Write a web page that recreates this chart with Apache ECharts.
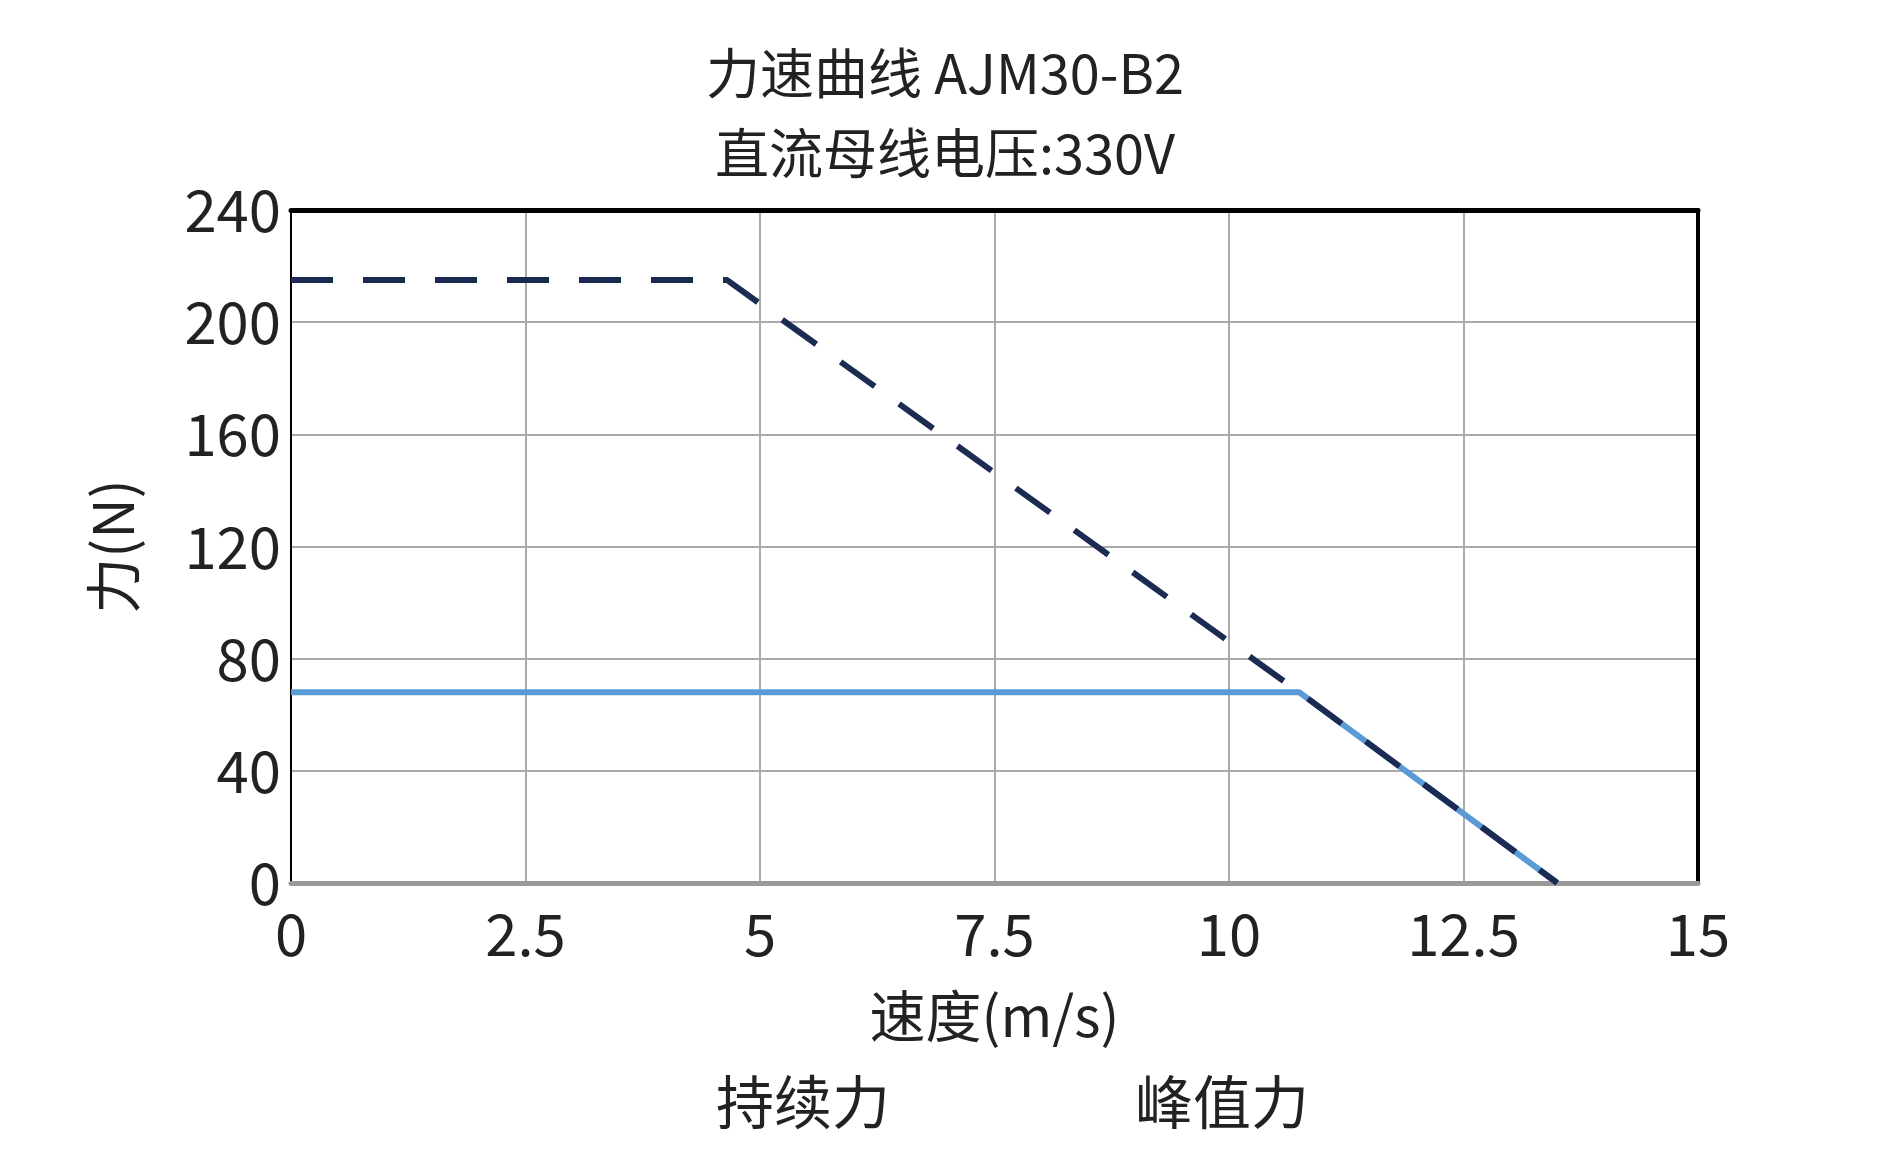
<!DOCTYPE html><html><head><meta charset="utf-8"><script src="https://cdn.jsdelivr.net/npm/echarts@6/dist/echarts.min.js"></script></head><body style="margin:0"><div id="c" style="width:1890px;height:1174px"></div><script>
const xTicks=[0,2.5,5,7.5,10,12.5,15];
const contX=[0,10.75,13.5];const contY=[68,68,0];
const peakX=[0,4.65,10.75,13.5];const peakY=[215,215,68,0];
const F='"Noto Sans CJK SC"';
const c=echarts.init(document.getElementById('c'));
c.setOption({
title:{text:'力速曲线 AJM30-B2\n直流母线电压:330V',left:'center',top:28,textStyle:{fontFamily:F,fontSize:54,fontWeight:'normal',color:'#222',lineHeight:80}},
grid:{left:291,right:192,top:210,bottom:291},
legend:{bottom:38,left:'center',itemGap:110,itemWidth:130,itemHeight:20,textStyle:{fontFamily:F,fontSize:58,color:'#222'},
data:[{name:'持续力',icon:'none'},{name:'峰值力',icon:'none'}]},
xAxis:[{type:'value',min:0,max:15,interval:2.5,name:'速度(m/s)',nameLocation:'middle',nameGap:105,nameTextStyle:{fontFamily:F,fontSize:56,color:'#222'},
axisLine:{show:true,onZero:false,lineStyle:{color:'#999',width:5}},axisTick:{show:false},axisLabel:{fontFamily:F,fontSize:58,color:'#222',margin:22,formatter:v=>String(v)},splitLine:{lineStyle:{color:'#aaa',width:2}}},
{type:'value',position:'top',min:0,max:15,axisLine:{show:true,onZero:false,lineStyle:{color:'#000',width:5}},axisTick:{show:false},axisLabel:{show:false},splitLine:{show:false}}],
yAxis:[{type:'value',min:0,max:240,interval:40,name:'力(N)',nameLocation:'middle',nameGap:150,nameTextStyle:{fontFamily:F,fontSize:56,color:'#222'},
axisLine:{show:true,onZero:false,lineStyle:{color:'#000',width:2}},axisTick:{show:false},axisLabel:{fontFamily:F,fontSize:58,color:'#222',margin:10},splitLine:{lineStyle:{color:'#aaa',width:2}}},
{type:'value',position:'right',min:0,max:240,axisLine:{show:true,onZero:false,lineStyle:{color:'#000',width:4}},axisTick:{show:false},axisLabel:{show:false},splitLine:{show:false}}],
series:[
{name:'持续力',type:'line',symbol:'none',data:contX.map((x,i)=>[x,contY[i]]),lineStyle:{color:'#5b9bd5',width:6},itemStyle:{color:'#5b9bd5'}},
{name:'峰值力',type:'line',symbol:'none',data:peakX.map((x,i)=>[x,peakY[i]]),lineStyle:{color:'#1c2b52',width:6,type:[42,30]},itemStyle:{color:'#1c2b52'}}
]});
</script></body></html>
